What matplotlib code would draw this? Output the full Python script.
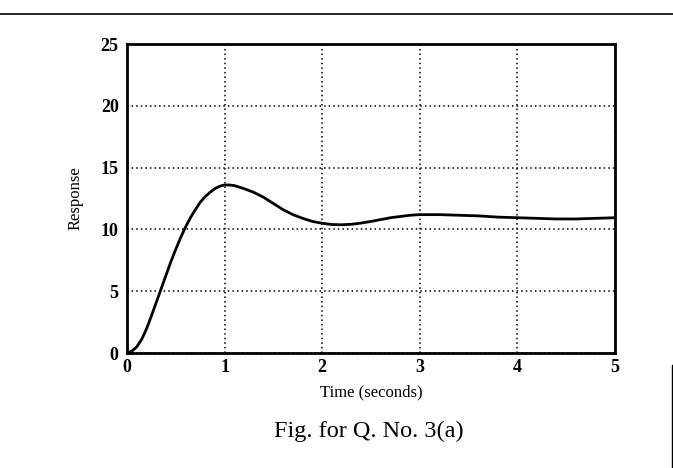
# -*- coding: utf-8 -*-
# Step response plot, "Fig. for Q. No. 3(a)"
import matplotlib
matplotlib.use('Agg')
import matplotlib.pyplot as plt
from matplotlib.lines import Line2D

plt.rcParams['font.family'] = ['Liberation Serif', 'DejaVu Serif']

# values
time = [0.0, 0.05, 0.1, 0.15, 0.2, 0.25, 0.3, 0.35, 0.4, 0.45, 0.5, 0.55, 0.6,
        0.65, 0.7, 0.75, 0.8, 0.85, 0.9, 0.95, 1.0, 1.05, 1.1, 1.2, 1.3, 1.4,
        1.5, 1.6, 1.7, 1.8, 1.9, 2.0, 2.1, 2.2, 2.3, 2.4, 2.5, 2.6, 2.7, 2.8,
        2.9, 3.0, 3.2, 3.4, 3.6, 3.8, 4.0, 4.2, 4.4, 4.6, 4.8, 5.0]
response = [0.0, 0.15, 0.5, 1.1, 1.95, 3.0, 4.1, 5.2, 6.3, 7.4, 8.4, 9.35, 10.2,
            10.95, 11.6, 12.2, 12.65, 13.0, 13.3, 13.5, 13.6, 13.6, 13.55, 13.3, 13.0, 12.6,
            12.1, 11.6, 11.2, 10.9, 10.65, 10.5, 10.4, 10.38, 10.42, 10.52, 10.65, 10.8, 10.95, 11.05,
            11.15, 11.2, 11.2, 11.15, 11.1, 11.0, 10.95, 10.9, 10.85, 10.85, 10.9, 10.95]

xticks = [0, 1, 2, 3, 4, 5]
yticks = [0, 5, 10, 15, 20, 25]

fig = plt.figure(figsize=(6.73, 4.68), dpi=100)
ax = fig.add_axes([0.1887, 0.2457, 0.7251, 0.660])

ax.plot(time, response, color='black', linewidth=2.0)

ax.set_xlim(0, 5)
ax.set_ylim(0, 25)
ax.set_xticks(xticks)
ax.set_yticks(yticks)
ax.tick_params(length=0, labelsize=13)
ax.tick_params(axis='y', pad=6)
ax.tick_params(axis='x', pad=4)
for lab in ax.get_xticklabels() + ax.get_yticklabels():
    lab.set_fontweight('bold')
ax.grid(True, color='black', linestyle=(0, (1, 2)), linewidth=1.1)

for s in ax.spines.values():
    s.set_linewidth(2.0)

ax.set_xlabel('Time (seconds)', fontsize=12, labelpad=6)
ax.set_ylabel('Response', fontsize=12, labelpad=12)

# caption and scan border lines
fig.text(0.548, 0.079, 'Fig. for Q. No. 3(a)', ha='center', va='center', fontsize=17.5)
fig.add_artist(Line2D([0.0, 1.0], [0.971, 0.971], color='black', linewidth=1.2))
fig.add_artist(Line2D([0.998, 0.998], [0.0, 0.22], color='black', linewidth=1.0))

fig.savefig('out.png', dpi=100)
